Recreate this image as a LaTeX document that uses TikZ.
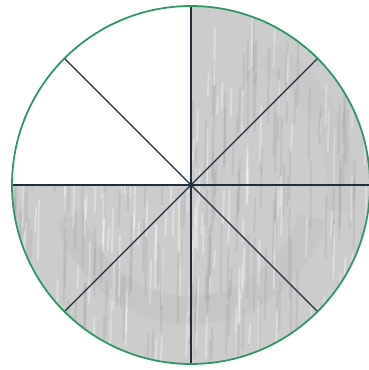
\documentclass[tikz,border=0pt]{standalone}
\usepackage{tikz}
\definecolor{rimgreen}{RGB}{46,150,96}
\definecolor{spokeblue}{RGB}{32,46,62}
\definecolor{pencil}{RGB}{204,204,204}
\begin{document}
\begin{tikzpicture}[x=0.02cm, y=0.02cm,
  rim/.style={draw=rimgreen, line width=1pt},
  spoke/.style={draw=spokeblue, line width=0.75pt},
  streak/.style={draw=black!50, line width=1.3pt, opacity=0.14, line cap=round},
  gap/.style={draw=white, line width=1pt, opacity=0.35, line cap=round}]
\useasboundingbox (0,0) rectangle (369,370);
\coordinate (c) at (191,185);

% pencil shading: everything but the upper left quarter
\fill[pencil] (c) -- ++(180:179) arc[start angle=180, end angle=450, radius=179] -- cycle;
\begin{scope}
  \clip (c) -- ++(180:179) arc[start angle=180, end angle=450, radius=179] -- cycle;
  \pgfmathsetseed{11}
  \foreach \i in {1,...,200} {
    \pgfmathsetmacro\sx{10+360*rnd}
    \pgfmathsetmacro\sy{5+300*rnd}
    \pgfmathsetmacro\sl{20+60*rnd}
    \draw[streak] (\sx,\sy) -- ++(1,\sl);
  }
  \foreach \i in {1,...,160} {
    \pgfmathsetmacro\sx{10+360*rnd}
    \pgfmathsetmacro\sy{5+300*rnd}
    \pgfmathsetmacro\sl{15+50*rnd}
    \draw[gap] (\sx,\sy) -- ++(1,\sl);
  }
  \draw[black!40, line width=16pt, opacity=0.1]
    (c) ++(195:125) arc[start angle=195, end angle=345, radius=125];
  \draw[black!40, line width=16pt, opacity=0.08]
    (c) ++(-10:150) arc[start angle=-10, end angle=60, radius=150];
\end{scope}

% spokes
\foreach \a in {0,45,...,315}
  \draw[spoke] (c) -- ++(\a:179);

% rim
\draw[rim] (c) circle[radius=179];
\end{tikzpicture}
\end{document}
